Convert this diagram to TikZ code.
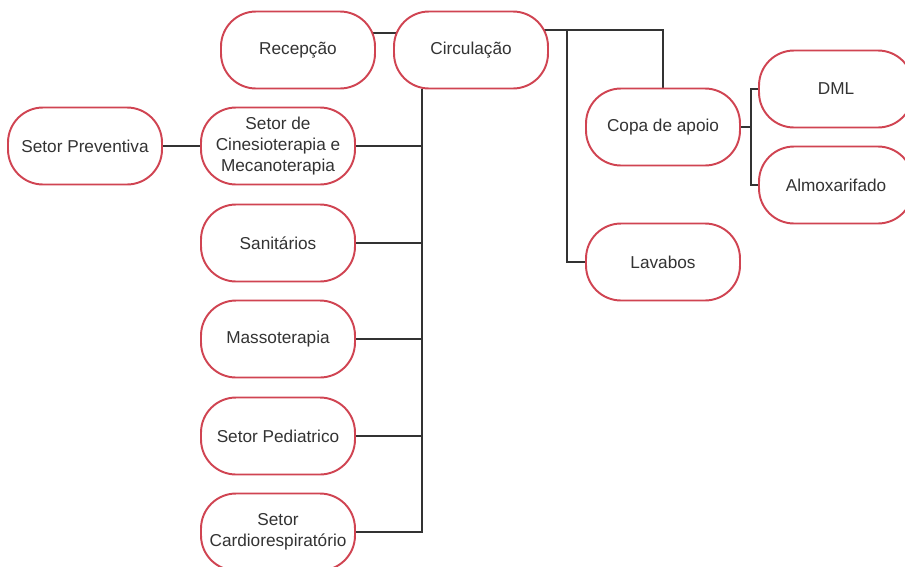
\documentclass[tikz,border=0pt]{standalone}
\usepackage{fontspec}
\setmainfont{Liberation Sans}
\usetikzlibrary{calc,backgrounds}
\definecolor{edge}{HTML}{D04452}
\definecolor{ink}{HTML}{333333}
\begin{document}
\begin{tikzpicture}[x=0.02cm, y=-0.02cm,
  room/.style={draw=edge, line width=1.1pt, fill=white, rounded corners=0.7cm, minimum width=3.08cm, minimum height=1.54cm, align=center, text=ink, font=\fontsize{9.8}{12}\selectfont, inner sep=0pt},
  wire/.style={draw=ink, line width=1.2pt}]
\useasboundingbox (0,0) rectangle (905,566);
\node[room] (rec) at (298,50) {Recepção};
\node[room] (circ) at (471,50) {Circulação};
\node[room] (prev) at (85,146) {Setor Preventiva};
\node[room] (cin) at (278,146) {Setor de\\Cinesioterapia e\\Mecanoterapia};
\node[room] (san) at (278,243) {Sanitários};
\node[room] (mas) at (278,339) {Massoterapia};
\node[room] (ped) at (278,436) {Setor Pediatrico};
\node[room] (car) at (278,532) {Setor\\Cardiorespiratório};
\node[room] (copa) at (663,127) {Copa de apoio};
\node[room] (lav) at (663,262) {Lavabos};
\node[room] (dml) at (836,89) {DML};
\node[room] (alm) at (836,185) {Almoxarifado};
\begin{scope}[on background layer]
\coordinate (trunk) at ($(circ.south)+(-49,0)$);
\coordinate (fork) at ($(circ.east)+(18,-20)$);
\coordinate (split) at ($(copa.east)+(10,0)$);
\draw[wire] ($(rec.center)+(0,-17)$) -- ($(circ.center)+(0,-17)$);
\draw[wire] ($(circ.center)+(0,-20)$) -| (copa.north);
\draw[wire] (fork) |- (lav.west);
\draw[wire] (trunk) |- (car.east);
\foreach \r in {cin,san,mas,ped}
  \draw[wire] (\r.east) -- (\r.east -| trunk);
\draw[wire] (prev.east) -- (cin.west);
\draw[wire] (copa.east) -- (split);
\draw[wire] (dml.west) -| (split) |- (alm.west);
\end{scope}
\end{tikzpicture}
\end{document}
